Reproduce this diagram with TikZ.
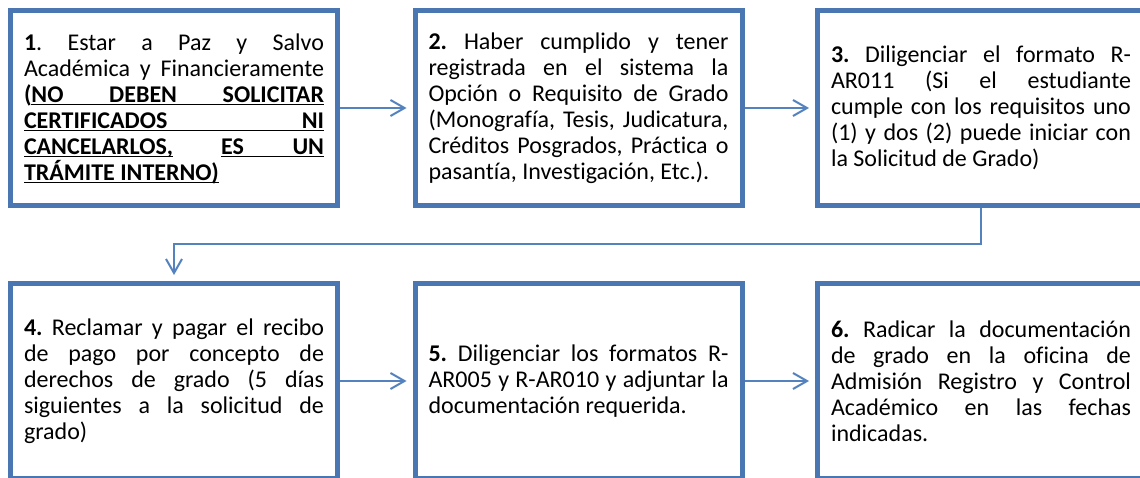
\documentclass[tikz,border=0pt]{standalone}
\usepackage{fontspec}
\setmainfont{Carlito}[Ligatures={NoCommon}]
\usetikzlibrary{arrows.meta}

\definecolor{boxblue}{RGB}{74,118,178}
\definecolor{lineblue}{RGB}{84,130,190}

\newlength\parenwd
\newcommand\ulbox[1]{\underline{\smash{#1}}}
\newcommand\fullline[2]{\makebox[#1][s]{#2}}

\begin{document}
\begin{tikzpicture}[x=1pt, y=-1pt,
  stepbox/.style={draw=boxblue, line width=5pt, rectangle, minimum width=327pt,
    minimum height=195pt, text width=300pt, align=justify, inner sep=0pt,
    font=\fontsize{24}{26}\selectfont\frenchspacing},
  conn/.style={draw=lineblue, line width=2pt, -{Straight Barb[length=14pt,width=16pt]},
    shorten >=6pt}]

\useasboundingbox (0,0) rectangle (1140,478);
\clip (0,0) rectangle (1140,478);
\fill[white] (0,0) rectangle (1140,478);

% first row
\node (s1) at (174,108)[stepbox] {\settowidth{\parenwd}{\bfseries(}%
  \textbf{1}. Estar a Paz y Salvo\linebreak
  Académica y Financieramente\linebreak
  \textbf{(}\ulbox{\fullline{\dimexpr\linewidth-\parenwd\relax}{\bfseries NO DEBEN SOLICITAR}}\linebreak
  \ulbox{\fullline{\linewidth}{\bfseries CERTIFICADOS NI}}\linebreak
  \fullline{\linewidth}{\ulbox{\bfseries CANCELARLOS,}\hfill
    \ulbox{\fullline{0.343\linewidth}{\bfseries ES UN}}}\linebreak
  \ulbox{\bfseries TRÁMITE INTERNO)}};
\node (s2) at (578.5,108)[stepbox] {\textbf{2.} Haber cumplido y tener\linebreak
  registrada en el sistema la\linebreak
  Opción o Requisito de Grado\linebreak
  (Monografía, Tesis, Judicatura,\linebreak
  Créditos Posgrados, Práctica o\linebreak
  pasantía, Investigación, Etc.).};
\node (s3) at (981,108)[stepbox] {\textbf{3.} Diligenciar el formato R-\linebreak
  AR011 (Si el estudiante\linebreak
  cumple con los requisitos uno\linebreak
  (1) y dos (2) puede iniciar con\linebreak
  la Solicitud de Grado)};

% second row
\node (s4) at (174,381)[stepbox] {\textbf{4.} Reclamar y pagar el recibo\linebreak
  de pago por concepto de\linebreak
  derechos de grado (5 días\linebreak
  siguientes a la solicitud de\linebreak
  grado)};
\node (s5) at (578.5,381)[stepbox] {\textbf{5.} Diligenciar los formatos R-\linebreak
  AR005 y R-AR010 y adjuntar la\linebreak
  documentación requerida.};
\node (s6) at (981,381)[stepbox] {\textbf{6.} Radicar la documentación\linebreak
  de grado en la oficina de\linebreak
  Admisión Registro y Control\linebreak
  Académico en las fechas\linebreak
  indicadas.};

% arrows
\draw[conn] (s1) -- (s2);
\draw[conn] (s2) -- (s3);
\draw[conn] (s3.south) -- ++(0,36) -| (s4.north);
\draw[conn] (s4) -- (s5);
\draw[conn] (s5) -- (s6);
\end{tikzpicture}
\end{document}
